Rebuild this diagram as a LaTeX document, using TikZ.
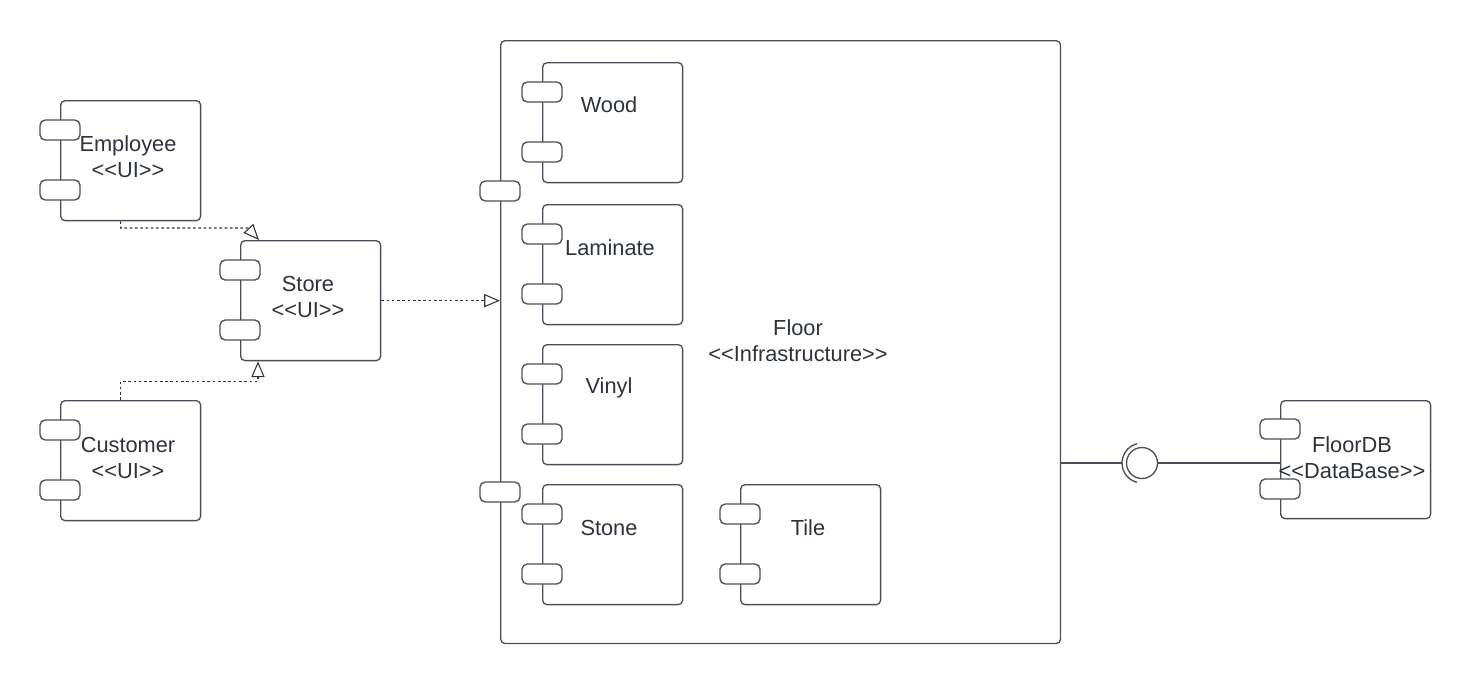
\documentclass[tikz,border=0pt]{standalone}
\usepackage{fontspec}
\setmainfont{Liberation Sans}[Ligatures=TeXOff]
\usetikzlibrary{arrows.meta,calc}
\definecolor{LineClr}{rgb}{0.29,0.31,0.34}
\definecolor{TextClr}{rgb}{0.18,0.2,0.23}
\tikzset{
  comp/.style={draw=LineClr,line width=0.75pt,rounded corners=2.5pt,anchor=north west,inner sep=0pt,minimum width=2.8cm,minimum height=2.4cm},
  port/.style={draw=LineClr,line width=0.75pt,fill=white,rounded corners=3pt,inner sep=0pt,minimum width=0.8cm,minimum height=0.4cm},
  txt/.style={text=TextClr,font=\fontsize{12.4}{14.7}\selectfont,align=center,inner sep=0pt},
  dep/.style={draw=TextClr,line width=0.6pt,dash pattern=on 1.5pt off 1.5pt,-{Triangle[open,length=9pt,width=7.5pt]}},
  wire/.style={draw=LineClr,line width=0.75pt}
}
\begin{document}
\begin{tikzpicture}[x=0.02cm,y=-0.02cm]
\useasboundingbox (0,0) rectangle (1469,684);

% outer components
\node[comp] (employee) at (60,100) {};
\node[port] (employee-p1) at (60,130) {};
\node[port] (employee-p2) at (60,190) {};
\node[txt] (employee-txt) at (128,157) {Employee\\<<UI>>};

\node[comp] (store) at (240,240) {};
\node[port] (store-p1) at (240,270) {};
\node[port] (store-p2) at (240,330) {};
\node[txt] (store-txt) at (308,297) {Store\\<<UI>>};

\node[comp] (customer) at (60,400) {};
\node[port] (customer-p1) at (60,430) {};
\node[port] (customer-p2) at (60,490) {};
\node[txt] (customer-txt) at (128,458) {Customer\\<<UI>>};

% floor and its parts
\node[comp,minimum width=11.2cm,minimum height=12.06cm] (floor) at (500,40) {};
\node[port] (floor-p1) at (500,191) {};
\node[port] (floor-p2) at (500,492) {};
\node[txt] (floor-txt) at (798,341) {Floor\\<<Infrastructure>>};

\node[comp] (wood) at (542,62) {};
\node[port] (wood-p1) at (542,92) {};
\node[port] (wood-p2) at (542,152) {};
\node[txt] (wood-txt) at (609,105) {Wood};

\node[comp] (laminate) at (542,204) {};
\node[port] (laminate-p1) at (542,234) {};
\node[port] (laminate-p2) at (542,294) {};
\node[txt] (laminate-txt) at (610,248) {Laminate};

\node[comp] (vinyl) at (542,344) {};
\node[port] (vinyl-p1) at (542,374) {};
\node[port] (vinyl-p2) at (542,434) {};
\node[txt] (vinyl-txt) at (609,388) {Vinyl};

\node[comp] (stone) at (542,484) {};
\node[port] (stone-p1) at (542,514) {};
\node[port] (stone-p2) at (542,574) {};
\node[txt] (stone-txt) at (609,528) {Stone};

\node[comp] (tile) at (740,484) {};
\node[port] (tile-p1) at (740,514) {};
\node[port] (tile-p2) at (740,574) {};
\node[txt] (tile-txt) at (808,528) {Tile};

% database
\node[comp,minimum width=3cm,minimum height=2.36cm] (floordb) at (1280,400) {};
\node[port] (floordb-p1) at (1280,429) {};
\node[port] (floordb-p2) at (1280,489) {};
\node[txt] (floordb-txt) at (1352,458) {FloorDB\\<<DataBase>>};

% dependencies
\draw[dep] ($(employee.south)+(-10,0)$) |- ($(store.north west)+(8,-12)$) -- ($(store.north west)+(19,0)$);
\draw[dep] ($(customer.north)+(-10,0)$) |- ($(store.south west)+(18,20)$) -- ($(store.south west)+(18,0)$);
\draw[dep] (store.east) -- (store.east -| floor.west);

% provided / required interface
\node[wire,circle,minimum size=0.62cm,inner sep=0pt] (iface) at (1142,463) {};
\coordinate (socket) at (1122,463);
\draw[wire] (floor.east |- iface) -- (socket);
\draw[wire] ([shift={(iface.center)}]105:20) arc (105:255:20);
\draw[wire] (iface.east) -- (iface.east -| floordb.west);

\end{tikzpicture}
\end{document}
